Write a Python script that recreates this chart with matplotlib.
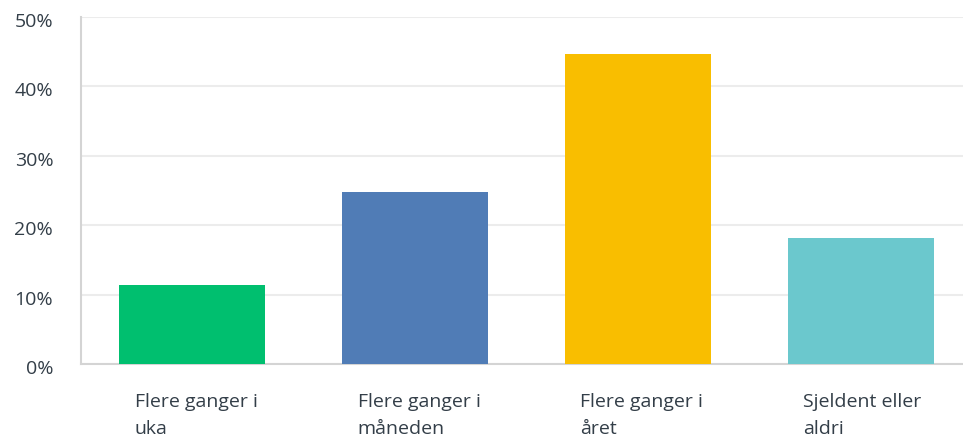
import numpy as np
import matplotlib
matplotlib.use("Agg")
import matplotlib.pyplot as plt
import matplotlib.transforms as mtransforms
from matplotlib.ticker import FuncFormatter

categories = ["Flere ganger i\nuka", "Flere ganger i\nmåneden", "Flere ganger i\nåret", "Sjeldent eller\naldri"]
values = [11.4, 24.8, 44.7, 18.2]
colors = ["#00bf6f", "#507cb6", "#f9be00", "#6bc8cd"]
yticks = [0, 10, 20, 30, 40, 50]

plt.rcParams['font.family'] = ['Open Sans', 'DejaVu Sans']
text_col = '#333e48'

fig = plt.figure(figsize=(9.63, 4.45), dpi=100)
# plot area runs slightly past the right edge of the image
ax = fig.add_axes([81/963, 81/445, (972-81)/963, (364-17)/445])

x = np.arange(len(categories))
ax.bar(x, values, width=0.655, color=colors, zorder=3)

ax.set_xlim(-0.5, 3.5)
ax.set_ylim(0, 50)
ax.set_yticks(yticks)
ax.yaxis.set_major_formatter(FuncFormatter(lambda v, p: f"{v:.0f}%"))
ax.grid(axis='y', color='#ececec', linewidth=1.5, zorder=0)
ax.tick_params(axis='y', length=0, pad=20, labelsize=14, labelcolor=text_col)
# y labels sit a few pixels below their gridlines
shift = mtransforms.ScaledTranslation(0, -3/100, fig.dpi_scale_trans)
for lab in ax.get_yticklabels():
    lab.set_transform(lab.get_transform() + shift)

ax.set_xticks(x - 0.258)
ax.set_xticklabels(categories, ha='left', fontsize=14, color=text_col, linespacing=1.6)
ax.tick_params(axis='x', length=0, pad=21)

for s in ['top', 'right']:
    ax.spines[s].set_visible(False)
for s in ['left', 'bottom']:
    ax.spines[s].set_color('#d4d4d4')
    ax.spines[s].set_linewidth(1.5)

fig.savefig("out.png", dpi=100)
